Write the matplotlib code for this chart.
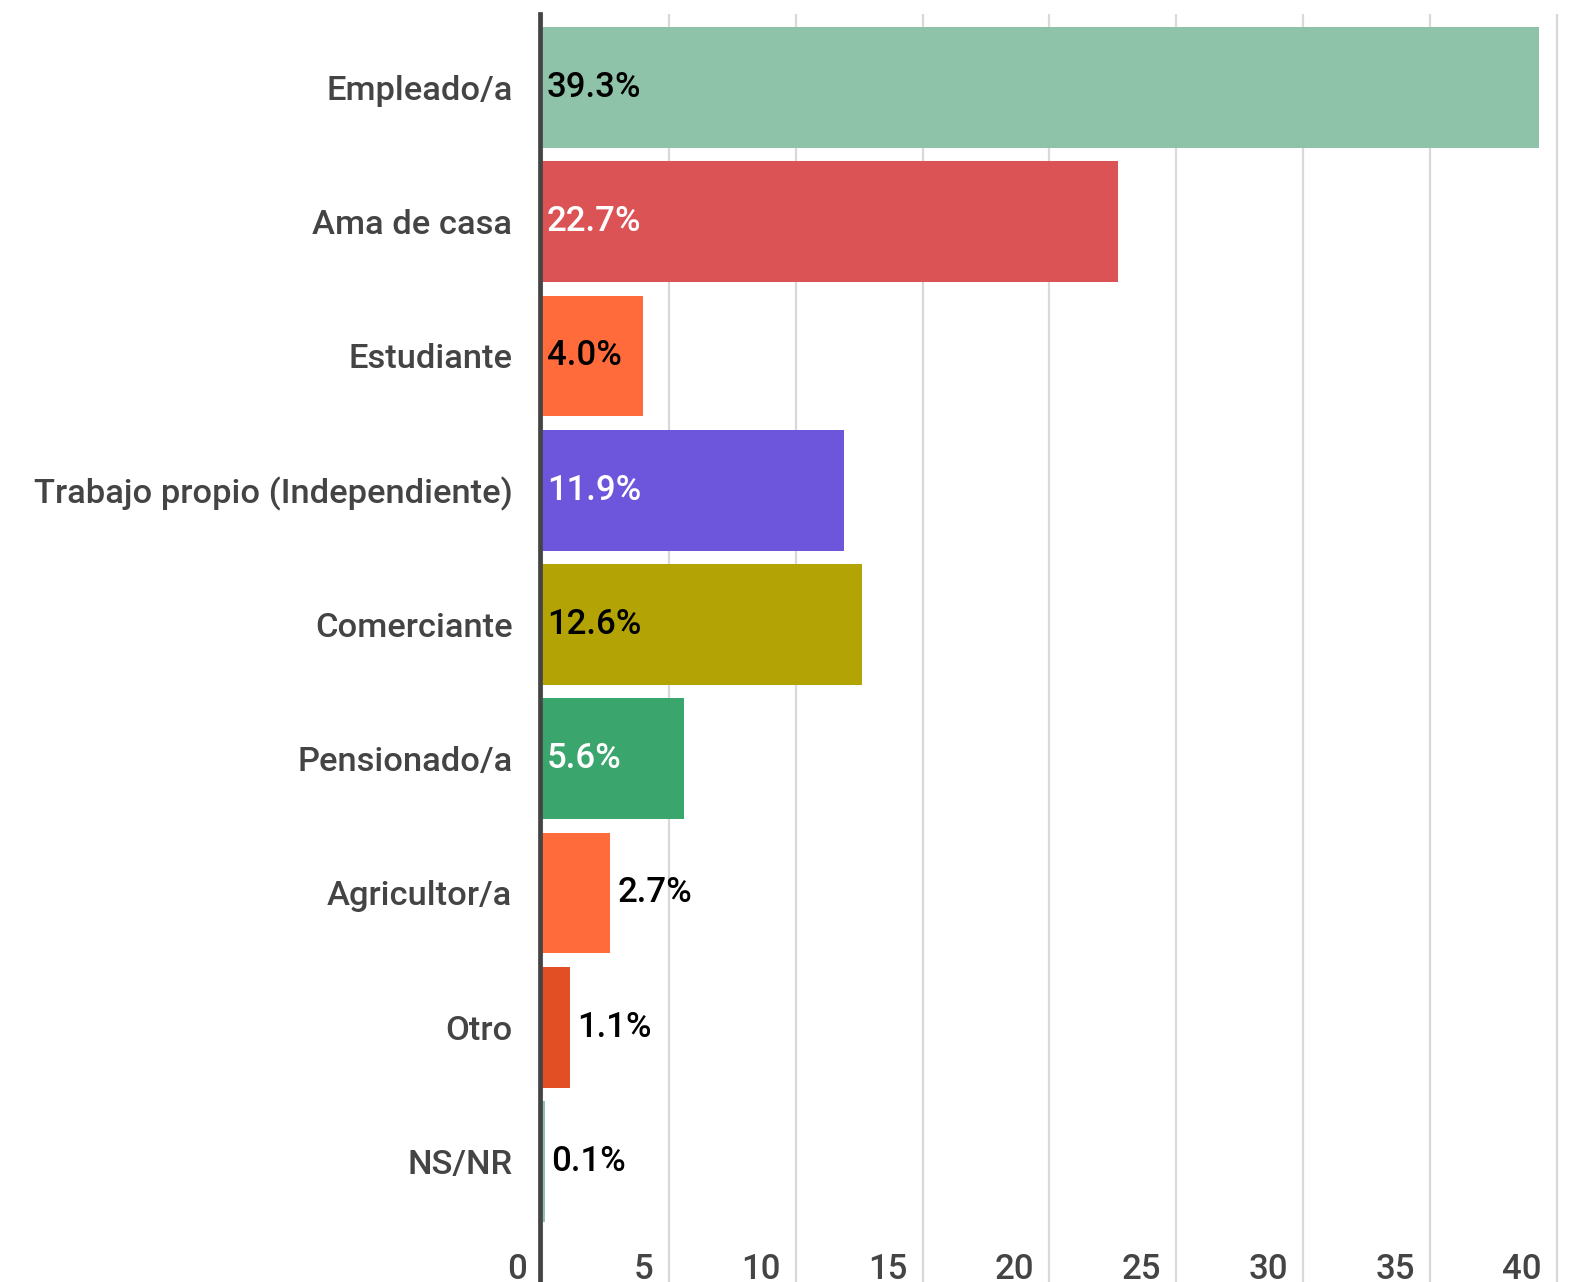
import matplotlib
matplotlib.use("Agg")
import matplotlib.pyplot as plt
from matplotlib.transforms import ScaledTranslation

plt.rcParams['font.family'] = ['Roboto', 'DejaVu Sans']

# data
categories = ["Empleado/a", "Ama de casa", "Estudiante", "Trabajo propio (Independiente)",
              "Comerciante", "Pensionado/a", "Agricultor/a", "Otro", "NS/NR"]
values = [39.3, 22.7, 4.0, 11.9, 12.6, 5.6, 2.7, 1.1, 0.1]
value_labels = ["39.3%", "22.7%", "4.0%", "11.9%", "12.6%", "5.6%", "2.7%", "1.1%", "0.1%"]
x_ticks = [0, 5, 10, 15, 20, 25, 30, 35, 40]

bar_colors = ["#8FC3A9", "#DC5356", "#FF6B3B", "#6D55DC", "#B3A304",
              "#3AA66E", "#FF6B3B", "#E34F25", "#8FC3A9"]
inside_text = ["black", "white", "black", "white", "black", "white", "black", "black", "black"]


def main():
    fig = plt.figure(figsize=(15.77, 12.82), dpi=100)
    ax = fig.add_axes([542 / 1577, 0.0, 1 - 542 / 1577, 1 - 14 / 1282])

    # spine styling first: moving a spine resets the tick label settings
    for s in ['top', 'right', 'bottom']:
        ax.spines[s].set_visible(False)
    ax.spines['left'].set_position(('outward', 1.8))
    ax.spines['left'].set_color('#444444')
    ax.spines['left'].set_linewidth(3.4)
    ax.spines['left'].set_zorder(5)

    y = list(range(len(categories)))
    ax.barh(y, values, height=0.9, color=bar_colors, zorder=3)

    ax.set_xlim(0, 40.8)
    ax.set_ylim(8.898, -0.547)

    # value labels: inside when the bar is wide enough, else just past its end
    for yi, v, lbl, tc in zip(y, values, value_labels, inside_text):
        if v >= 4:
            ax.annotate(lbl, (0, yi), xytext=(3.5, 0), textcoords='offset points',
                        va='center', ha='left', fontsize=25, fontweight='medium',
                        color=tc, zorder=4)
        else:
            ax.annotate(lbl, (v, yi), xytext=(5, 0), textcoords='offset points',
                        va='center', ha='left', fontsize=25, fontweight='medium',
                        color='black', zorder=4)

    ax.set_yticks(y)
    ax.set_yticklabels(categories, fontsize=24.8, fontweight='medium', color='#444444')
    ax.tick_params(axis='y', length=0, pad=19.5)

    ax.set_xticks(x_ticks)
    ax.set_xticklabels([str(t) for t in x_ticks], fontsize=25, fontweight='medium', color='#444444')
    ax.tick_params(axis='x', length=0, pad=-21)
    shift = ScaledTranslation(-15 / 100, 0, fig.dpi_scale_trans)
    for t in ax.get_xticklabels():
        t.set_horizontalalignment('right')
        t.set_transform(t.get_transform() + shift)

    ax.grid(axis='x', color='#d9d9d9', linewidth=1.6, zorder=0)

    fig.savefig("out.png", dpi=100)


if __name__ == '__main__':
    main()
